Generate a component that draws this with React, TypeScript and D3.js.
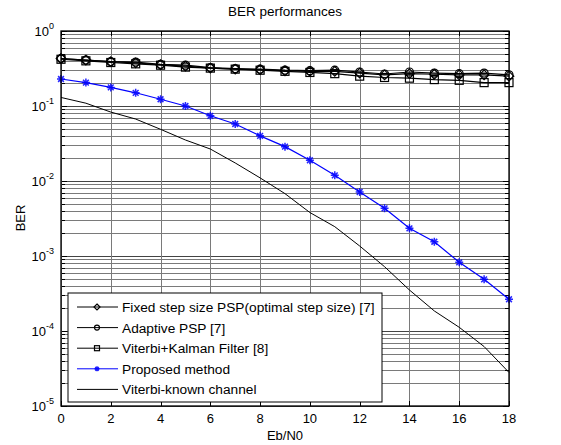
import React from 'react';
import * as d3 from 'd3';

const snr = [0, 1, 2, 3, 4, 5, 6, 7, 8, 9, 10, 11, 12, 13, 14, 15, 16, 17, 18];

const fixedPsp = [0.43, 0.41, 0.39, 0.375, 0.355, 0.34, 0.32, 0.31, 0.305, 0.295, 0.29, 0.29, 0.275, 0.26, 0.27, 0.265, 0.26, 0.26, 0.25];
const adaptivePsp = [0.43, 0.41, 0.39, 0.385, 0.36, 0.35, 0.325, 0.315, 0.31, 0.3, 0.296, 0.3, 0.284, 0.267, 0.284, 0.275, 0.27, 0.275, 0.26];
const kalman = [0.42, 0.4, 0.38, 0.365, 0.35, 0.33, 0.32, 0.31, 0.3, 0.29, 0.28, 0.27, 0.25, 0.24, 0.235, 0.225, 0.22, 0.205, 0.205];
const proposed = [0.229, 0.205, 0.177, 0.15, 0.123, 0.1, 0.074, 0.0575, 0.04, 0.0287, 0.0189, 0.0119, 0.00713, 0.00432, 0.00234, 0.00155, 0.000824, 0.000489, 0.000265];
const knownChannel = [0.13, 0.109, 0.083, 0.067, 0.0489, 0.0352, 0.0267, 0.0174, 0.011, 0.00678, 0.0038, 0.00246, 0.00136, 0.00072, 0.000352, 0.000185, 0.000112, 0.000062, 0.000028];

const xTicks = [0, 2, 4, 6, 8, 10, 12, 14, 16, 18];
const yExponents = [0, -1, -2, -3, -4, -5];

const seriesList = [
  { name: 'Fixed step size PSP(optimal step size) [7]', values: fixedPsp, color: 'black', marker: 'diamond' },
  { name: 'Adaptive PSP [7]', values: adaptivePsp, color: 'black', marker: 'circle' },
  { name: 'Viterbi+Kalman Filter [8]', values: kalman, color: 'black', marker: 'square' },
  { name: 'Proposed method', values: proposed, color: '#0000ff', marker: 'star' },
  { name: 'Viterbi-known channel', values: knownChannel, color: 'black', marker: 'none' },
];

const drawMarker = (g, type, cx, cy, color, size) => {
  if (type === 'circle') {
    g.append('circle').attr('cx', cx).attr('cy', cy).attr('r', size * 0.5)
      .attr('fill', 'none').attr('stroke', color).attr('stroke-width', 1.2);
  } else if (type === 'square') {
    g.append('rect').attr('x', cx - size / 2).attr('y', cy - size / 2)
      .attr('width', size).attr('height', size)
      .attr('fill', 'none').attr('stroke', color).attr('stroke-width', 1.2);
  } else if (type === 'diamond') {
    const s = size * 0.6;
    g.append('path').attr('d', `M${cx},${cy - s}L${cx + s},${cy}L${cx},${cy + s}L${cx - s},${cy}Z`)
      .attr('fill', 'none').attr('stroke', color).attr('stroke-width', 1.2);
  } else if (type === 'star') {
    const s = size * 0.5;
    const d = s * 0.72;
    g.append('path')
      .attr('d', `M${cx - s},${cy}H${cx + s}M${cx},${cy - s}V${cy + s}M${cx - d},${cy - d}L${cx + d},${cy + d}M${cx - d},${cy + d}L${cx + d},${cy - d}`)
      .attr('stroke', color).attr('stroke-width', 1.5).attr('opacity', 0.85);
  }
};

const App = () => {
  const svgRef = React.useRef(null);
  const W = 561;
  const H = 445;
  const left = 61, right = 509, top = 31, bottom = 406;

  React.useEffect(() => {
    const svg = d3.select(svgRef.current);
    svg.selectAll('*').remove();

    const x = d3.scaleLinear().domain([0, 18]).range([left, right]);
    const y = d3.scaleLog().domain([1e-5, 1]).range([bottom, top]);

    svg.append('rect').attr('x', 0).attr('y', 0).attr('width', W).attr('height', H).attr('fill', 'white');

    const grid = svg.append('g').attr('shape-rendering', 'crispEdges');
    // minor horizontal grid
    for (let e = -5; e < 0; e++) {
      for (let m = 2; m <= 9; m++) {
        const yy = Math.round(y(m * Math.pow(10, e)));
        grid.append('line').attr('x1', left).attr('x2', right).attr('y1', yy).attr('y2', yy)
          .attr('stroke', '#7a7a7a').attr('stroke-width', 1);
        grid.append('line').attr('x1', left).attr('x2', left + 4).attr('y1', yy).attr('y2', yy).attr('stroke', 'black');
        grid.append('line').attr('x1', right - 4).attr('x2', right).attr('y1', yy).attr('y2', yy).attr('stroke', 'black');
      }
    }
    yExponents.forEach(e => {
      const yy = Math.round(y(Math.pow(10, e)));
      grid.append('line').attr('x1', left).attr('x2', right).attr('y1', yy).attr('y2', yy)
        .attr('stroke', '#444').attr('stroke-width', 1);
      grid.append('line').attr('x1', left).attr('x2', left + 6).attr('y1', yy).attr('y2', yy).attr('stroke', 'black');
      grid.append('line').attr('x1', right - 6).attr('x2', right).attr('y1', yy).attr('y2', yy).attr('stroke', 'black');
    });
    xTicks.forEach(t => {
      const xx = Math.round(x(t));
      grid.append('line').attr('x1', xx).attr('x2', xx).attr('y1', top).attr('y2', bottom)
        .attr('stroke', '#7a7a7a').attr('stroke-width', 1);
      grid.append('line').attr('x1', xx).attr('x2', xx).attr('y1', top).attr('y2', top + 5).attr('stroke', 'black');
      grid.append('line').attr('x1', xx).attr('x2', xx).attr('y1', bottom - 5).attr('y2', bottom).attr('stroke', 'black');
    });

    // series
    const line = d3.line().x((d, i) => x(snr[i])).y(d => y(d));
    seriesList.forEach(s => {
      svg.append('path').datum(s.values).attr('d', line)
        .attr('fill', 'none').attr('stroke', s.color).attr('stroke-width', s.marker === 'none' ? 1 : 1.2);
      const mg = svg.append('g');
      s.values.forEach((v, i) => drawMarker(mg, s.marker, x(snr[i]), y(v), s.color, 8));
    });

    // box
    svg.append('rect').attr('x', left).attr('y', top).attr('width', right - left).attr('height', bottom - top)
      .attr('fill', 'none').attr('stroke', 'black').attr('stroke-width', 1.3);

    const font = 'Liberation Sans, Arial, sans-serif';

    // x tick labels
    xTicks.forEach(t => {
      svg.append('text').attr('x', x(t)).attr('y', bottom + 17).attr('text-anchor', 'middle')
        .attr('font-family', font).attr('font-size', 13).text(t);
    });
    // y tick labels
    yExponents.forEach(e => {
      const t = svg.append('text').attr('x', 54).attr('y', y(Math.pow(10, e)) + 5).attr('text-anchor', 'end')
        .attr('font-family', font).attr('font-size', 13);
      t.append('tspan').text('10');
      t.append('tspan').attr('dy', -7).attr('font-size', 9).text(e);
    });

    svg.append('text').attr('x', 285).attr('y', 16).attr('text-anchor', 'middle')
      .attr('font-family', font).attr('font-size', 13.5).text('BER performances');
    svg.append('text').attr('x', 285).attr('y', 440).attr('text-anchor', 'middle')
      .attr('font-family', font).attr('font-size', 13).text('Eb/N0');
    svg.append('text').attr('transform', 'translate(25,218) rotate(-90)').attr('text-anchor', 'middle')
      .attr('font-family', font).attr('font-size', 13).text('BER');

    // legend
    const lg = svg.append('g');
    lg.append('rect').attr('x', 68).attr('y', 293).attr('width', 314).attr('height', 109)
      .attr('fill', 'white').attr('stroke', 'black').attr('stroke-width', 1);
    seriesList.forEach((s, i) => {
      const ly = 307 + i * 20.6;
      lg.append('line').attr('x1', 77).attr('x2', 118).attr('y1', ly).attr('y2', ly)
        .attr('stroke', s.color).attr('stroke-width', 1);
      drawMarker(lg, s.marker, 97, ly, s.color, 5);
      lg.append('text').attr('x', 122).attr('y', ly + 5).attr('font-family', font).attr('font-size', 13.7).text(s.name);
    });
  }, []);

  return (
    <svg ref={svgRef} width={W} height={H} style={{ position: 'absolute', left: 0, top: 0 }} />
  );
};

export default App;
